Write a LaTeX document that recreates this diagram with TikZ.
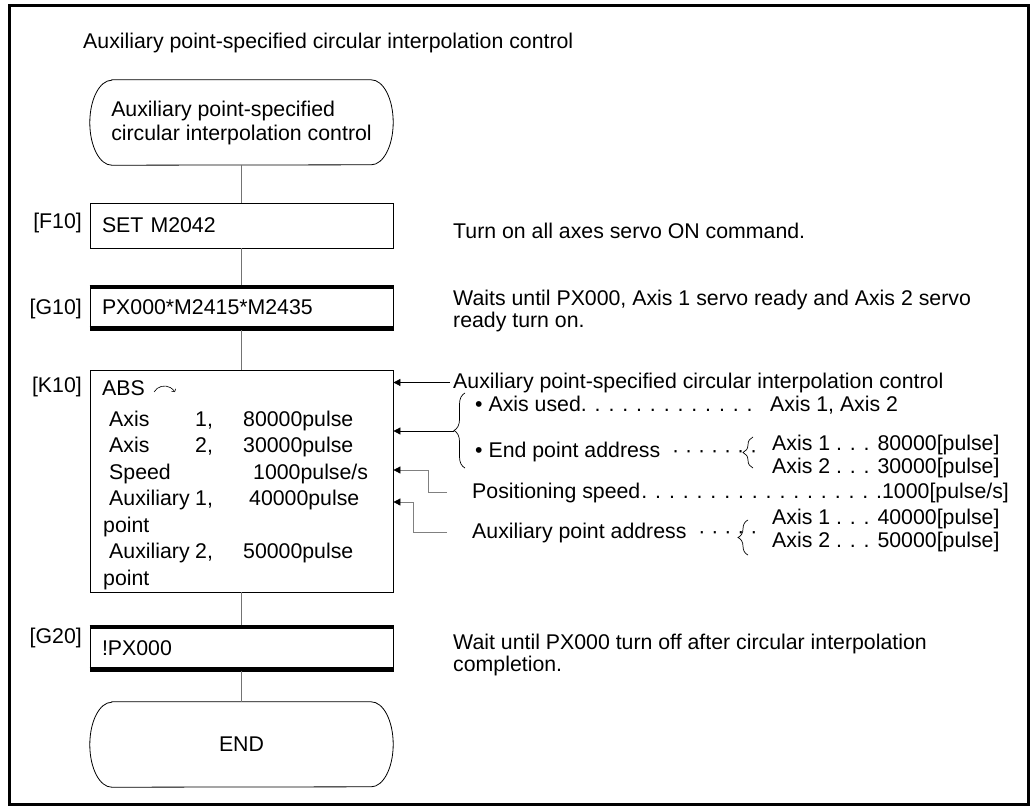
\documentclass[tikz,border=0pt]{standalone}
\usepackage{fontspec}
\setmainfont{Liberation Sans}
\usetikzlibrary{arrows.meta,decorations.pathreplacing}

\begin{document}
\begin{tikzpicture}[
  x=1pt, y=-1pt,
  every node/.style={font=\fontsize{21.3}{24}\selectfont},
  cmdbox/.style={draw, line width=0.8pt, minimum width=303pt, minimum height=45pt,
                 text width=279pt, inner xsep=12pt, inner ysep=0pt, align=left},
  term/.style={minimum width=303pt, minimum height=85pt, align=left, inner sep=0pt},
  lbl/.style={anchor=base east, inner sep=0pt},
  txt/.style={anchor=base west, inner sep=0pt, align=left,
              font=\fontsize{21.3}{22}\selectfont},
  flow/.style={draw=black!55, line width=0.8pt},
  arr/.style={line width=0.8pt, -{Triangle[length=7pt,width=7pt]}},
  garr/.style={line width=0.8pt, draw=black!50,
               -{Triangle[length=7pt,width=7pt,color=black]}},
  brc/.style={decorate, decoration={brace, amplitude=#1}, line width=0.7pt},
  bar/.style={line width=4.5pt},
]
  \useasboundingbox (0,0) rectangle (1033,806);
  \draw[line width=3pt] (9,5.5) rectangle (1028,804);

  \node[txt] (ttl) at (83,48) {Auxiliary point-specified circular interpolation control};

  % Flow chart
  \node[term] (st) at (241.5,122.5) {Auxiliary point-specified\\circular interpolation control};
  \node[cmdbox] (f10) at (241.5,225.5) {SET M2042};
  \node[cmdbox] (g10) at (241.5,307.5) {PX000*M2415*M2435};
  \node[cmdbox, minimum height=222pt] (k10) at (241.5,481) {};
  \node[cmdbox, minimum height=46pt] (g20) at (241.5,648) {!PX000};
  \node[term, align=center] (en) at (241.5,744.5) {END};

  \foreach \n in {st,en}
    \draw[line width=0.8pt] ([xshift=22pt]\n.north west) -- ([xshift=-22pt]\n.north east)
      arc[start angle=90, end angle=-90, x radius=22pt, y radius=42.5pt]
      -- ([xshift=22pt]\n.south west)
      arc[start angle=270, end angle=90, x radius=22pt, y radius=42.5pt] -- cycle;

  \foreach \n in {g10,g20} {
    \draw[bar] ([yshift=-2.25pt]\n.north west) -- ([yshift=-2.25pt]\n.north east);
    \draw[bar] ([yshift=2.25pt]\n.south west) -- ([yshift=2.25pt]\n.south east);
  }

  \foreach \a/\b in {st/f10, f10/g10, g10/k10, k10/g20, g20/en}
    \draw[flow] (\a) -- (\b);

  % Step labels
  \node[lbl] (lf10) at (82,228) {[F10]};
  \node[lbl] (lg10) at (82,314) {[G10]};
  \node[lbl] (lk10) at (82,392) {[K10]};
  \node[lbl] (lg20) at (82,643) {[G20]};

  % K10 contents
  \node[txt] (abs) at (102,395) {ABS};
  \draw[line width=0.6pt, -{To[length=2.5pt]}] ([xshift=9pt,yshift=3pt]abs.base east)
    arc[start angle=150, end angle=30, radius=12pt];
  \node[anchor=base west, inner sep=0pt, font=\fontsize{21.3}{26.5}\selectfont] (kt) at (109,426)
    {\begin{tabular}[t]{@{}p{86pt}@{}p{48pt}@{}l@{}}
      Axis & 1, & 80000pulse\\
      Axis & 2, & 30000pulse\\
      Speed & & \hspace*{10pt}1000pulse/s\\
      Auxiliary & 1, & \hspace*{6pt}40000pulse\\
      \hspace*{-6pt}point & & \\
      Auxiliary & 2, & 50000pulse\\
      \hspace*{-6pt}point & &
    \end{tabular}};

  % Comments on the right (base = last line)
  \node[txt] (tf10) at (453,238) {Turn on all axes servo ON command.};
  \node[txt] (tg10) at (453,327) {Waits until PX000, Axis 1 servo ready and Axis 2 servo\\ready turn on.};
  \node[txt] (tg20) at (453,671) {Wait until PX000 turn off after circular interpolation\\completion.};

  \node[txt] (tr1) at (453,388) {Auxiliary point-specified circular interpolation control};
  \node[txt] (au1) at (475,411) {\textbullet\ Axis used. . . . . . . . . . . . .};
  \node[txt] (au2) at (770,411) {Axis 1, Axis 2};
  \node[txt] (ep) at (475,457) {\textbullet\ End point address\ \ · · · · · · ·};
  \node[txt] (ep1) at (772,450) {Axis 1 . . . 80000[pulse]};
  \node[txt] (ep2) at (772,473) {Axis 2 . . . 30000[pulse]};
  \node[txt] (ps) at (472,498) {Positioning speed};
  \node[txt, anchor=base east] (psv) at (1009,498) {. . . . . . . . . . . . . . . . . .1000[pulse/s]};
  \node[txt] (ap) at (472,538) {Auxiliary point address\ \ · · · · ·};
  \node[txt] (ap1) at (772,524) {Axis 1 . . . 40000[pulse]};
  \node[txt] (ap2) at (772,547) {Axis 2 . . . 50000[pulse]};

  % Braces
  \draw[brc=11pt] (465,468) -- (465,393);
  \coordinate (bt) at (454,431);
  \draw[brc=10pt] (753,468) -- (753,437);
  \draw[brc=10pt] (748,555) -- (748,520);

  % Arrows into K10
  \draw[arr] ([xshift=-3pt]tr1.west) -- (tr1.west -| k10.east);
  \draw[arr] (bt) -- (bt -| k10.east);
  \draw[garr] ([xshift=-25pt]ps.west) -- ++(-19,0) |- ([yshift=11pt]k10.east);
  \draw[garr] ([xshift=-25pt]ap.west) -- ++(-34,0) |- ([yshift=-21pt]k10.east);
\end{tikzpicture}
\end{document}
